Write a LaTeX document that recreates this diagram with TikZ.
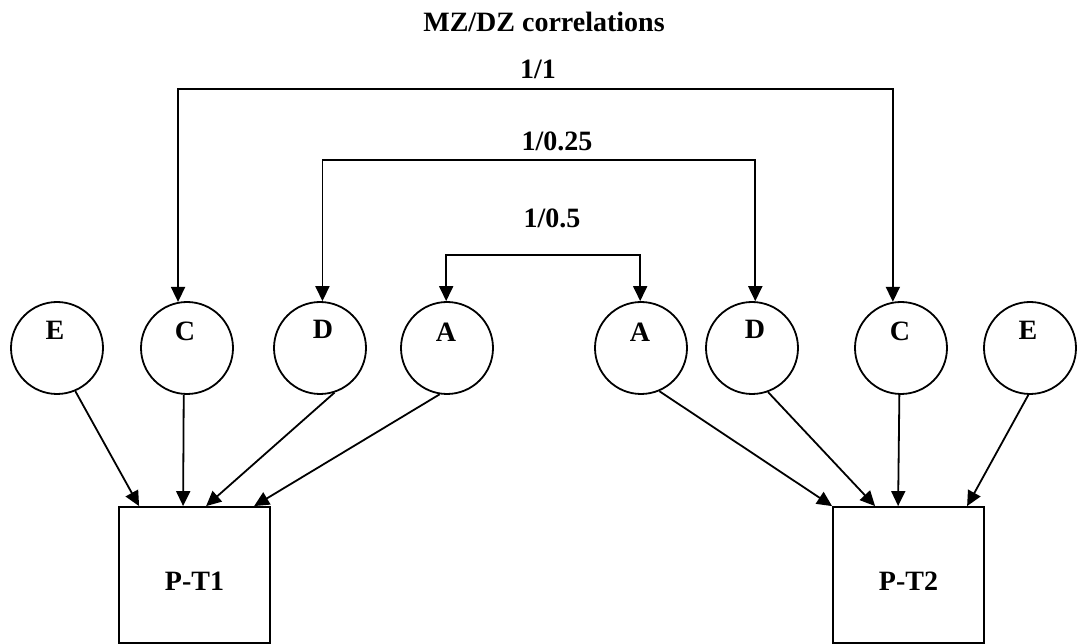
\documentclass[tikz,border=0pt]{standalone}
\usepackage{fontspec}
\setmainfont{Liberation Serif}
\usetikzlibrary{arrows.meta,calc}
\begin{document}
\begin{tikzpicture}[x=1pt,y=-1pt,
  lbl/.style={font=\fontsize{28}{30}\selectfont\bfseries, inner sep=0pt, anchor=base},
  latent/.style={draw, circle, line width=1.8pt, minimum size=92pt, inner sep=0pt},
  pheno/.style={draw, rectangle, line width=1.8pt, minimum width=151pt, minimum height=136pt, inner sep=0pt,
    font=\fontsize{28}{30}\selectfont\bfseries, text height=30pt, text depth=0pt},
  arr/.style={line width=1.8pt, -{Triangle[length=15pt,width=14pt]}},
  corr/.style={line width=1.8pt, {Triangle[length=15pt,width=14pt]}-{Triangle[length=15pt,width=14pt]}}]
\useasboundingbox (0,0) rectangle (1077,644);
% title and correlation labels
\node[lbl] (title) at (544,32) {MZ/DZ correlations};
\node[lbl] (l11) at (538,79) {1/1};
\node[lbl] (l025) at (557,151) {1/0.25};
\node[lbl] (l05) at (552,228) {1/0.5};
% latent circles
\node[latent] (E1) at (57,348) {};
\node[latent] (C1) at (187,348) {};
\node[latent] (D1) at (320,348) {};
\node[latent] (A1) at (447,348) {};
\node[latent] (A2) at (641,348) {};
\node[latent] (D2) at (752,348) {};
\node[latent] (C2) at (901,348) {};
\node[latent] (E2) at (1030,348) {};
\node[lbl] (tE1) at (55,340) {E};
\node[lbl] (tC1) at (185,341) {C};
\node[lbl] (tD1) at (323,339) {D};
\node[lbl] (tA1) at (446,342) {A};
\node[lbl] (tA2) at (640,342) {A};
\node[lbl] (tD2) at (755,339) {D};
\node[lbl] (tC2) at (900,341) {C};
\node[lbl] (tE2) at (1028,340) {E};
% phenotype boxes
\node[pheno] (P1) at (194.5,575) {P-T1};
\node[pheno] (P2) at (908.5,575) {P-T2};
% correlation brackets
\coordinate (k1) at (540,89);
\coordinate (k2) at (540,160);
\coordinate (k3) at (540,255);
\draw[corr] (C1.101) |- (k1) -| (C2.100);
\draw[corr] (D1.87.5) |- (k2) -| (D2.86.3);
\draw[corr] (A1.91) |- (k3) -| (A2.91);
% paths to phenotypes
\draw[arr] (E1.-67) -- ($(P1.north west)+(21,0)$);
\draw[arr] (C1.-94) -- ($(P1.north west)+(65,0)$);
\draw[arr] (D1.-72) -- ($(P1.north west)+(88,0)$);
\draw[arr] (A1.-99) -- ($(P1.north west)+(136,0)$);
\draw[arr] (A2.-67) -- ($(P2.north west)+(0,0)$);
\draw[arr] (D2.-70) -- ($(P2.north west)+(43,0)$);
\draw[arr] (C2.-92.5) -- ($(P2.north west)+(66,0)$);
\draw[arr] (E2.-92.5) -- ($(P2.north west)+(135,0)$);
\end{tikzpicture}
\end{document}
